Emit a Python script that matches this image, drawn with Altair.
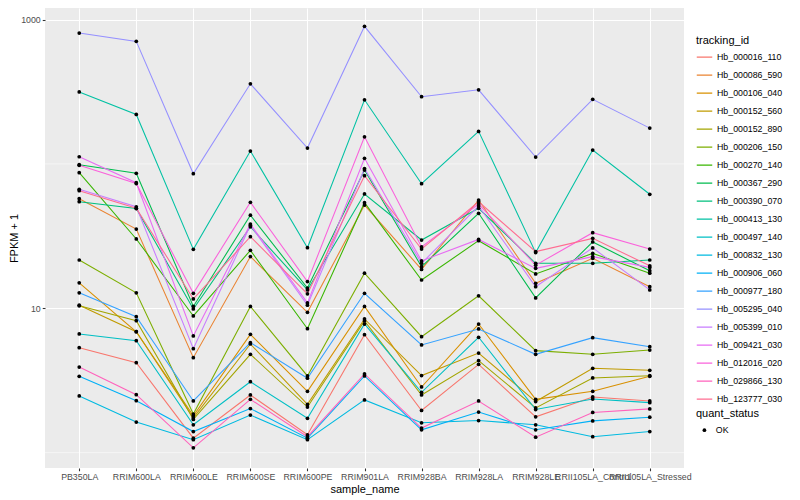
import altair as alt
import pandas as pd

samples = ["PB350LA", "RRIM600LA", "RRIM600LE", "RRIM600SE", "RRIM600PE", "RRIM901LA",
           "RRIM928BA", "RRIM928LA", "RRIM928LE", "RRII105LA_Control", "RRII105LA_Stressed"]

tracking_ids = ["Hb_000016_110", "Hb_000086_590", "Hb_000106_040", "Hb_000152_560",
                "Hb_000152_890", "Hb_000206_150", "Hb_000270_140", "Hb_000367_290",
                "Hb_000390_070", "Hb_000413_130", "Hb_000497_140", "Hb_000832_130",
                "Hb_000906_060", "Hb_000977_180", "Hb_005295_040", "Hb_005399_010",
                "Hb_009421_030", "Hb_012016_020", "Hb_029866_130", "Hb_123777_030"]

hb_000016_110 = [5.33, 4.20, 1.26, 2.51, 1.33, 6.56, 1.96, 4.09, 1.77, 2.43, 2.28]
hb_000086_590 = [57.4, 35.4, 4.55, 22.8, 9.38, 51.9, 18.6, 56.2, 14.9, 22.2, 14.1]
hb_000106_040 = [15.0, 6.88, 1.80, 6.60, 2.66, 10.3, 2.85, 7.78, 2.34, 2.66, 3.38]
hb_000152_560 = [10.5, 6.88, 1.74, 5.66, 2.16, 8.43, 3.42, 4.90, 2.26, 3.84, 3.72]
hb_000152_890 = [10.4, 8.21, 1.70, 4.80, 2.07, 8.17, 2.51, 4.34, 2.04, 3.29, 3.41]
hb_000206_150 = [21.6, 12.8, 1.85, 10.3, 3.40, 17.5, 6.36, 12.2, 5.09, 4.80, 5.14]
hb_000270_140 = [86.9, 30.2, 8.85, 25.2, 7.22, 53.9, 15.7, 29.4, 17.3, 24.0, 17.5]
hb_000367_290 = [98.7, 86.1, 10.3, 44.1, 13.8, 90.7, 19.4, 45.5, 11.8, 28.8, 18.2]
hb_000390_070 = [54.7, 49.1, 9.89, 36.7, 13.4, 61.9, 29.7, 49.3, 20.5, 20.5, 21.6]
hb_000413_130 = [315, 220, 25.6, 122.8, 26.3, 278, 72.9, 168, 24.3, 124.8, 61.6]
hb_000497_140 = [6.64, 5.96, 1.56, 3.10, 1.73, 7.78, 2.62, 6.30, 1.99, 2.35, 2.22]
hb_000832_130 = [2.47, 1.63, 1.23, 1.82, 1.23, 2.32, 1.61, 1.67, 1.56, 1.29, 1.40]
hb_000906_060 = [3.38, 2.29, 1.40, 2.02, 1.26, 3.40, 1.44, 1.91, 1.44, 1.66, 1.76]
hb_000977_180 = [12.8, 8.74, 2.28, 5.78, 3.28, 12.7, 5.57, 7.19, 4.80, 6.26, 5.42]
hb_005295_040 = [806, 706, 85.5, 359, 128.8, 897, 292, 326, 111.6, 280, 177]
hb_005399_010 = [66.7, 50.5, 5.25, 37.6, 10.5, 92.9, 20.5, 51.1, 14.1, 26.2, 13.4]
hb_009421_030 = [112.1, 74.1, 6.43, 38.3, 10.9, 109.3, 21.3, 30.0, 18.9, 22.8, 19.2]
hb_012016_020 = [97.8, 73.1, 12.7, 54.2, 15.3, 154, 26.6, 52.7, 19.9, 33.4, 25.7]
hb_029866_130 = [3.92, 2.52, 1.08, 2.34, 1.29, 3.51, 1.48, 2.28, 1.28, 1.90, 2.01]
hb_123777_030 = [65.2, 49.3, 11.6, 31.3, 12.6, 82.8, 25.7, 54.7, 24.7, 30.5, 19.7]

series = [hb_000016_110, hb_000086_590, hb_000106_040, hb_000152_560, hb_000152_890,
          hb_000206_150, hb_000270_140, hb_000367_290, hb_000390_070, hb_000413_130,
          hb_000497_140, hb_000832_130, hb_000906_060, hb_000977_180, hb_005295_040,
          hb_005399_010, hb_009421_030, hb_012016_020, hb_029866_130, hb_123777_030]

palette = ["#F8766D", "#EA8331", "#D89000", "#C09B00", "#A3A500", "#7CAE00", "#39B600",
           "#00BB4E", "#00BF7D", "#00C1A3", "#00BFC4", "#00BAE0", "#00B0F6", "#35A2FF",
           "#9590FF", "#C77CFF", "#E76BF3", "#FA62DB", "#FF62BC", "#FF6C91"]

major_breaks = [10, 1000]
minor_breaks = [1, 100]

rows = []
for name, vals in zip(tracking_ids, series):
    for s, v in zip(samples, vals):
        rows.append({"tracking_id": name, "sample_name": s, "value": v, "quant_status": "OK"})
df = pd.DataFrame(rows)
grid_df = pd.DataFrame({"value": minor_breaks})

FONT = "Liberation Sans"

x_enc = alt.X("sample_name:N", sort=samples,
              scale=alt.Scale(type="point", padding=0.6),
              axis=alt.Axis(title="sample_name", labelAngle=0, grid=True,
                            labelOverlap=False, labelBound=False, labelFlush=False))
y_scale = alt.Scale(type="log", domain=[0.783, 1202], nice=False)
y_enc = alt.Y("value:Q", scale=y_scale,
              axis=alt.Axis(title="FPKM + 1", values=major_breaks, format="d", grid=True))

minor = alt.Chart(grid_df).mark_rule(color="white", strokeWidth=0.55).encode(
    y=alt.Y("value:Q", scale=y_scale)
)

lines = alt.Chart(df).mark_line(strokeWidth=1.07).encode(
    x=x_enc, y=y_enc,
    color=alt.Color("tracking_id:N", sort=tracking_ids,
                    scale=alt.Scale(domain=tracking_ids, range=palette),
                    legend=alt.Legend(title="tracking_id", orient="none", legendX=651, legendY=27,
                                      symbolType="stroke", symbolSize=240, symbolStrokeWidth=1.1,
                                      clipHeight=17.28, rowPadding=0, titlePadding=2.5,
                                      labelOffset=4, padding=0)),
    detail="tracking_id:N"
)

points = alt.Chart(df).mark_point(filled=True, size=14, color="black", opacity=1).encode(
    x=x_enc, y=y_enc,
    shape=alt.Shape("quant_status:N", scale=alt.Scale(range=["circle"]),
                    legend=alt.Legend(title="quant_status", orient="none", legendX=651, legendY=400,
                                      clipHeight=17.28, titlePadding=2.5, symbolOffset=4,
                                      symbolSize=14, labelOffset=7, padding=0,
                                      symbolFillColor="black", symbolStrokeColor="black"))
)

chart = alt.layer(minor, lines, points).properties(
    width=639, height=460,
    autosize=alt.AutoSizeParams(type="none"),
    padding={"left": 37, "top": 0, "right": 100, "bottom": 30}
).configure_view(
    fill="#EBEBEB", stroke=None
).configure_axis(
    domain=False, gridColor="white", gridWidth=1.07, tickColor="#333333", tickSize=2.75,
    tickWidth=1.07, labelColor="#4D4D4D", labelFontSize=8.8, labelFont=FONT,
    titleFont=FONT, titleFontSize=11, titleFontWeight="normal", titleColor="black",
    labelPadding=2
).configure_axisY(
    titlePadding=1.5
).configure_axisX(
    titlePadding=2
).configure_legend(
    titleFont=FONT, labelFont=FONT, titleFontSize=11, titleFontWeight="normal",
    labelFontSize=8.8, labelColor="black", titleColor="black"
)

chart.save("out.html", embed_options={"renderer": "svg", "actions": False})
